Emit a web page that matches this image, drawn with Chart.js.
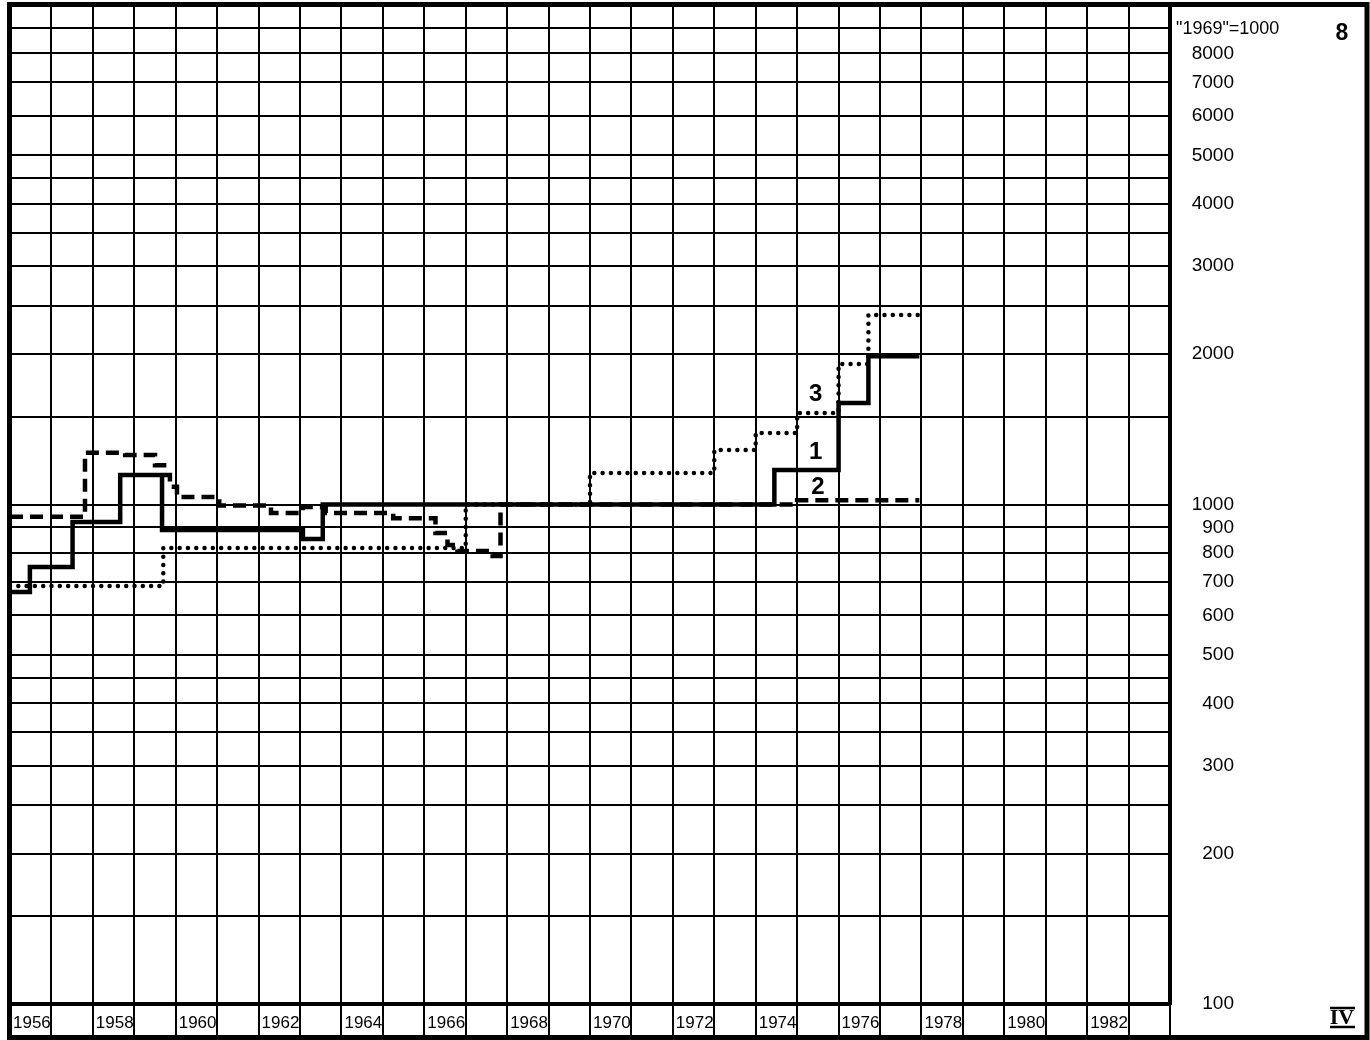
<!DOCTYPE html>
<html>
<head>
<meta charset="utf-8">
<script src="https://cdn.jsdelivr.net/npm/chart.js@4.4.1/dist/chart.umd.min.js"></script>
<style>
  html, body { margin: 0; padding: 0; background: #fff; }
  #chart { display: block; }
</style>
</head>
<body>
<canvas id="chart" width="1370" height="1040"></canvas>
<script>
// index, "1969" = 1000, log scale; each value holds from its year until the next one
var series1Years  = [1956.0, 1956.48, 1957.51, 1958.66, 1959.67, 1963.07, 1963.55, 1974.45, 1976.0, 1976.72, 1977.95];
var series1Values = [668, 750, 923, 1146, 889, 853, 1000, 1172, 1597, 1980, 1980];

var series2Years  = [1956.0, 1957.81, 1958.78, 1959.5, 1959.72, 1959.86, 1960.03, 1961.05, 1962.3, 1963.07, 1963.62, 1965.25, 1966.27, 1966.56, 1966.8, 1967.65, 1967.84, 1975.0, 1977.95];
var series2Values = [945, 1270, 1257, 1199, 1146, 1085, 1035, 995, 962, 988, 962, 939, 877, 830, 807, 789, 1000, 1020, 1020];

var series3Years  = [1956.0, 1959.7, 1967.0, 1970.0, 1973.0, 1974.0, 1975.0, 1976.0, 1976.72, 1977.93];
var series3Values = [687, 818, 1000, 1156, 1285, 1391, 1525, 1910, 2395, 2395];

var gridValues = [100, 150, 200, 250, 300, 350, 400, 450, 500, 600, 700, 800, 900, 1000,
                  1500, 2000, 2500, 3000, 3500, 4000, 4500, 5000, 6000, 7000, 8000, 9000, 10000];
var yTickLabels = [100, 200, 300, 400, 500, 600, 700, 800, 900, 1000, 2000, 3000, 4000, 5000, 6000, 7000, 8000];
var xTickLabels = [1956, 1958, 1960, 1962, 1964, 1966, 1968, 1970, 1972, 1974, 1976, 1978, 1980, 1982];

var curveNames  = ['1', '2', '3'];
var curveYears  = [1975.45, 1975.5, 1975.45];
var curveValues = [1274, 1084, 1664];

var FONT = '"Liberation Sans", Arial, sans-serif';

function toPoints(xs, ys) {
    var pts = [];
    for (var i = 0; i < xs.length; ++i) {
        pts.push({ x: xs[i], y: ys[i] });
    }
    return pts;
}

var paperPlugin = {
    id: 'paper',
    afterDraw: function (chart) {
        var ctx = chart.ctx;
        var xs = chart.scales.x;
        var ys = chart.scales.y;
        ctx.save();

        // outer frame
        ctx.strokeStyle = '#000';
        ctx.lineWidth = 5;
        ctx.strokeRect(9.5, 4.5, 1357.5, 1033);

        // curve numbers
        ctx.fillStyle = '#000';
        ctx.font = 'bold 24px ' + FONT;
        ctx.textAlign = 'center';
        ctx.textBaseline = 'middle';
        for (var i = 0; i < curveNames.length; ++i) {
            ctx.fillText(curveNames[i], xs.getPixelForValue(curveYears[i]), ys.getPixelForValue(curveValues[i]));
        }

        // right panel texts
        ctx.textAlign = 'left';
        ctx.font = '18px ' + FONT;
        ctx.fillText('"1969"=1000', 1176, 29);

        ctx.textAlign = 'center';
        ctx.font = 'bold 23px ' + FONT;
        ctx.fillText('8', 1342, 34);

        ctx.font = 'bold 22px "Liberation Serif", "DejaVu Serif", serif';
        ctx.fillText('IV', 1342, 1018);
        ctx.lineWidth = 2.5;
        ctx.beginPath();
        ctx.moveTo(1330, 1008); ctx.lineTo(1355, 1008);
        ctx.moveTo(1330, 1027); ctx.lineTo(1355, 1027);
        ctx.stroke();

        ctx.restore();
    }
};

var ctx = document.getElementById('chart').getContext('2d');
new Chart(ctx, {
    type: 'line',
    data: {
        datasets: [{
            label: '1',
            data: toPoints(series1Years, series1Values),
            borderColor: '#000',
            borderWidth: 4.5,
            stepped: true,
            pointRadius: 0,
            fill: false
        }, {
            label: '2',
            data: toPoints(series2Years, series2Values),
            borderColor: '#000',
            borderWidth: 4.5,
            borderDash: [13, 7],
            stepped: true,
            pointRadius: 0,
            fill: false
        }, {
            label: '3',
            data: toPoints(series3Years, series3Values),
            borderColor: '#000',
            borderWidth: 4.5,
            borderDash: [0, 8.3],
            borderCapStyle: 'round',
            stepped: true,
            pointRadius: 0,
            fill: false
        }]
    },
    options: {
        responsive: false,
        animation: false,
        layout: { padding: { left: 10, top: 5, right: 136, bottom: 3 } },
        plugins: {
            legend: { display: false },
            tooltip: { enabled: false }
        },
        scales: {
            x: {
                type: 'linear',
                position: 'bottom',
                min: 1956,
                max: 1984,
                afterFit: function (scale) { scale.height = 33; },
                grid: {
                    color: '#000',
                    lineWidth: 2,
                    drawTicks: true,
                    tickLength: 33
                },
                border: { display: true, color: '#000', width: 4 },
                ticks: {
                    stepSize: 1,
                    autoSkip: false,
                    maxRotation: 0,
                    align: 'start',
                    labelOffset: 3,
                    padding: -24,
                    color: '#000',
                    font: { family: FONT, size: 17 },
                    callback: function (value) {
                        return xTickLabels.indexOf(value) >= 0 ? String(value) : '';
                    }
                }
            },
            y: {
                type: 'logarithmic',
                position: 'right',
                min: 100,
                max: 10000,
                afterFit: function (scale) { scale.width = 64; },
                afterBuildTicks: function (scale) {
                    scale.ticks = gridValues.map(function (v) { return { value: v }; });
                },
                grid: {
                    color: '#000',
                    lineWidth: 2,
                    drawTicks: false
                },
                border: { display: true, color: '#000', width: 4 },
                ticks: {
                    autoSkip: false,
                    crossAlign: 'far',
                    padding: 0,
                    color: '#000',
                    font: { family: FONT, size: 19, lineHeight: 0.4 },
                    callback: function (value) {
                        return yTickLabels.indexOf(value) >= 0 ? String(value) : '';
                    }
                }
            }
        }
    },
    plugins: [paperPlugin]
});
</script>
</body>
</html>
